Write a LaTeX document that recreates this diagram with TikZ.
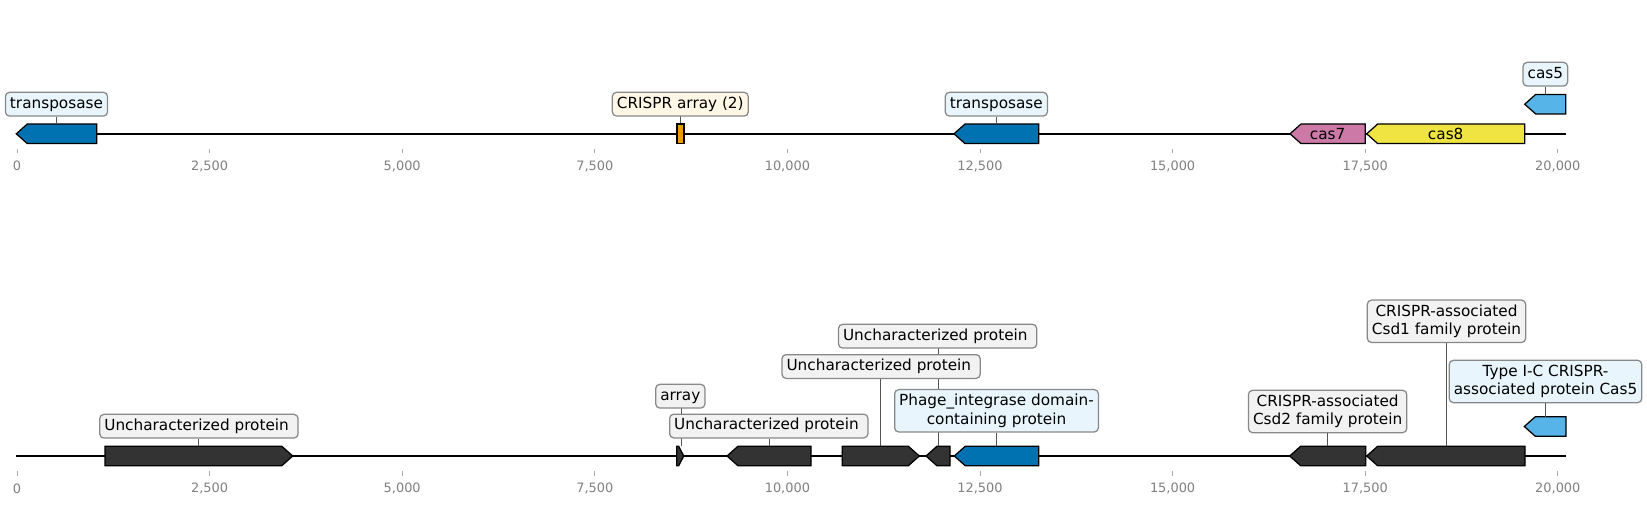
\documentclass[tikz,border=0pt]{standalone}
\usepackage{fontspec}
\setmainfont{DejaVu Sans}
\definecolor{geneblue}{RGB}{0,114,178}
\definecolor{casblue}{RGB}{86,180,233}
\definecolor{caspink}{RGB}{204,121,167}
\definecolor{casyellow}{RGB}{240,228,66}
\definecolor{arrorange}{RGB}{230,159,0}
\definecolor{darkgene}{RGB}{51,51,51}
\definecolor{lblue}{RGB}{232,245,253}
\definecolor{lcream}{RGB}{255,247,230}
\definecolor{lgray}{RGB}{242,242,242}
\definecolor{boxgray}{RGB}{136,136,136}
\definecolor{linegray}{RGB}{85,85,85}
\definecolor{tickgray}{RGB}{128,128,128}
\definecolor{tickmk}{RGB}{170,170,170}
\tikzset{
  genestyle/.style={draw=black, line width=0.9pt, line join=miter},
  labbox/.style={draw=boxgray, line width=0.9pt, rounded corners=3pt,
    font=\fontsize{11}{13.2}\selectfont, inner xsep=3.3pt, inner ysep=3pt,
    text height=8.4pt, text depth=2.7pt},
  labboxtwo/.style={draw=boxgray, line width=0.9pt, rounded corners=3pt,
    font=\fontsize{11}{13.2}\selectfont, inner xsep=3.3pt, inner ysep=0pt,
    align=center, minimum height=30.5pt},
  labline/.style={draw=linegray, line width=0.6pt},
  axisline/.style={draw=black, line width=1.6pt},
  tickmark/.style={draw=tickmk, line width=0.7pt},
  ticklab/.style={text=tickgray, font=\fontsize{9.3}{11}\selectfont, inner sep=0pt},
  incase/.style={font=\fontsize{11}{13.2}\selectfont, inner sep=0pt}
}
% left-pointing gene: name, tip x, right x, mid y, half height, colour
\newcommand\mkgeneL[6]{%
  \draw[genestyle, fill=#6] ({#2},{#4}) -- ({#2+11},{#4-#5}) -- ({#3},{#4-#5})
    -- ({#3},{#4+#5}) -- ({#2+11},{#4+#5}) -- cycle;
  \coordinate (#1) at ({(#2+#3)/2},{#4-#5});
  \coordinate (#1c) at ({(#2+#3)/2},{#4});}
% right-pointing gene: name, left x, tip x, mid y, half height, colour
\newcommand\mkgeneR[6]{%
  \draw[genestyle, fill=#6] ({#2},{#4-#5}) -- ({#3-11},{#4-#5}) -- ({#3},{#4})
    -- ({#3-11},{#4+#5}) -- ({#2},{#4+#5}) -- cycle;
  \coordinate (#1) at ({(#2+#3)/2},{#4-#5});
  \coordinate (#1c) at ({(#2+#3)/2},{#4});}
\newcommand\trsp{\kern0.3em}
\begin{document}
\begin{tikzpicture}[x=0.72pt, y=-0.72pt]
\useasboundingbox (0,0) rectangle (1647,505);

% ---------- axes ----------
\coordinate (ta) at (16.3,133.8);
\coordinate (tb) at (1565.7,133.8);
\coordinate (ba) at (16.3,456);
\coordinate (bb) at (1566,456);
\draw[axisline] (ta) -- (tb);
\draw[axisline] (ba) -- (bb);

\foreach \t [count=\i from 0] in {0, {2,500}, {5,000}, {7,500},
   {10,000}, {12,500}, {15,000}, {17,500}, {20,000}} {
  \pgfmathsetmacro\xx{17.0+192.6*\i}
  \draw[tickmark] (\xx,149) -- (\xx,153.5);
  \node[ticklab] (tt\i) at (\xx,166) {\t};
  \draw[tickmark] (\xx,471) -- (\xx,476);
  \node[ticklab] (bt\i) at (\xx,488.5) {\t};
}

% ---------- top track ----------
\coordinate (g2) at (680.5,124);
\draw[labline] (g2) -- (680.5,116);

\mkgeneL{g1}{16.3}{96.7}{133.8}{9.8}{geneblue}
\draw[genestyle, fill=arrorange] (677,124) rectangle (684,143.6);
\mkgeneL{g3}{954}{1038.7}{133.8}{9.8}{geneblue}
\mkgeneL{g4}{1290}{1365.3}{133.8}{9.8}{caspink}
\mkgeneL{g5}{1366.7}{1524.7}{133.8}{9.8}{casyellow}
\mkgeneL{g6}{1524.7}{1565.7}{104.2}{9.8}{casblue}

\node[labbox, fill=lblue] (l1) at (56.5,104.2) {transposase};
\node[labbox, fill=lcream] (l2) at (680.3,104.2) {CRISPR array (2)};
\node[labbox, fill=lblue] (l3) at (996.3,104.2) {transposase};
\node[labbox, fill=lblue] (l6) at (1545.3,74.2) {cas5};
\draw[labline] (g1) -- (g1 |- l1.south);
\draw[labline] (g3) -- (g3 |- l3.south);
\draw[labline] (g6) -- (g6 |- l6.south);

\node[incase] (c7) at (g4c) {cas7};
\node[incase] (c8) at (g5c) {cas8};

% ---------- bottom track ----------
\coordinate (h2) at (681.3,446.2);
\coordinate (h4) at (880.8,446.2);
\coordinate (h5) at (938.5,446.2);
\coordinate (h8) at (1446.3,446.2);

% connector lines (drawn beneath the boxes)
\draw[labline] (h4) -- (880.8,378);
\draw[labline] (h5) -- (938.5,348);
\draw[labline] (h8) -- (1446.3,342);
\draw[labline] (h2) -- (681.3,408);

\mkgeneR{h1}{105}{292.7}{456}{9.8}{darkgene}
\draw[genestyle, fill=darkgene] (676.7,446.2) -- (678.7,446.2) -- (683.7,456)
   -- (678.7,465.8) -- (676.7,465.8) -- cycle;
\mkgeneL{h3}{727}{811}{456}{9.8}{darkgene}
\mkgeneR{h4g}{842.3}{919.3}{456}{9.8}{darkgene}
\mkgeneL{h5g}{926}{950}{456}{9.8}{darkgene}
\mkgeneL{h6}{954.3}{1038.7}{456}{9.8}{geneblue}
\mkgeneL{h7}{1289.7}{1365.7}{456}{9.8}{darkgene}
\mkgeneL{h8g}{1366.7}{1525}{456}{9.8}{darkgene}
\mkgeneL{h9}{1524.3}{1566}{426.5}{9.8}{casblue}

\node[labbox, fill=lgray] (m1) at (198.9,426.2) {Uncharacterized protein\trsp};
\node[labbox, fill=lgray] (m2) at (680.3,396.2) {array};
\node[labbox, fill=lgray] (m3) at (768.8,426) {Uncharacterized protein\trsp};
\node[labbox, fill=lgray] (m4) at (881.1,366.5) {Uncharacterized protein\trsp};
\node[labbox, fill=lgray] (m5) at (937.6,336.2) {Uncharacterized protein\trsp};
\node[labboxtwo, fill=lblue] (m6) at (996.5,410.8) {Phage\_integrase domain-\\containing protein};
\node[labboxtwo, fill=lgray] (m7) at (1327.6,411.5) {CRISPR-associated\\Csd2 family protein};
\node[labboxtwo, fill=lgray] (m8) at (1446.5,321.3) {CRISPR-associated\\Csd1 family protein};
\node[labboxtwo, fill=lblue] (m9) at (1545.5,381.5) {Type I-C CRISPR-\\associated protein Cas5};

\draw[labline] (h1) -- (h1 |- m1.south);
\draw[labline] (h3) -- (h3 |- m3.south);
\draw[labline] (h6) -- (h6 |- m6.south);
\draw[labline] (h7) -- (h7 |- m7.south);
\draw[labline] (h9) -- (h9 |- m9.south);
\end{tikzpicture}
\end{document}
